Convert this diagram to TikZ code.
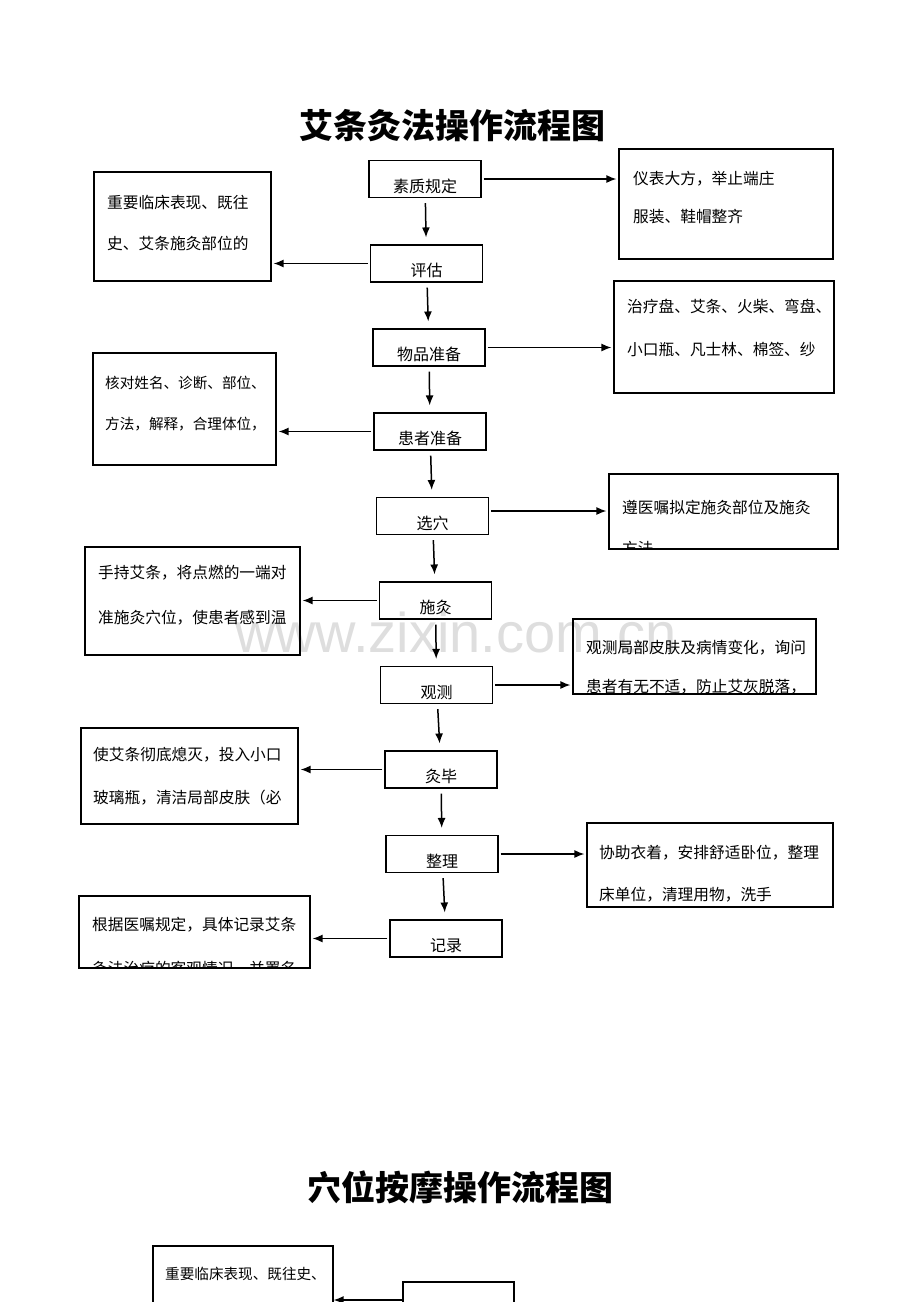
\documentclass[tikz,border=0pt]{standalone}
\usepackage{fontspec}
\newfontfamily\cjk{Noto Sans CJK SC}
\newfontfamily\wmfont{Liberation Sans}
\usetikzlibrary{arrows.meta}
\tikzstyle{arrow} = [line width=1.5pt,->,>={Latex[length=10pt,width=8pt]},shorten <=2pt,shorten >=2pt]
\tikzstyle{down} = [arrow,shorten <=5pt,shorten >=7pt]
\tikzstyle{stepbox} = [draw, line width=1.1pt, minimum width=112pt, minimum height=37pt, inner sep=0pt, text height=26pt, text depth=0pt, font=\cjk\fontsize{16}{16}\selectfont]
\tikzstyle{notebox} = [draw, line width=1.1pt, inner sep=0pt]
\tikzstyle{note} = [anchor=west, inner sep=0pt, font=\cjk\fontsize{15.7}{16}\selectfont]
\tikzstyle{notesmall} = [note, font=\cjk\fontsize{14.6}{15}\selectfont]
\tikzstyle{heading} = [font=\cjk\bfseries\fontsize{34}{34}\selectfont]

\begin{document}
\begin{tikzpicture}[x=1pt,y=-1pt]
                \useasboundingbox (0,0) rectangle (920,1302);
                \clip (0,0) rectangle (920,1302);
                % watermark
                \node (mark) [anchor=base, text=black!13, font=\wmfont\fontsize{56}{56}\selectfont] at (456,652) {www.zixin.com.cn};

                \node (title) [heading] at (452,126) {艾条灸法操作流程图};

                % steps
                \node (s1) [stepbox] at (425,179) {素质规定};
                \node (s2) [stepbox] at (426.5,263.5) {评估};
                \node (s3) [stepbox] at (429,347.5) {物品准备};
                \node (s4) [stepbox] at (430,431.5) {患者准备};
                \node (s5) [stepbox] at (432.5,516) {选穴};
                \node (s6) [stepbox] at (435.5,600.5) {施灸};
                \node (s7) [stepbox] at (436.5,685) {观测};
                \node (s8) [stepbox] at (441,769.5) {灸毕};
                \node (s9) [stepbox] at (442,854) {整理};
                \node (s10) [stepbox] at (446,938.5) {记录};

                % notes
                \node (r1) [notebox, minimum width=214pt, minimum height=110pt] at (726,204) {};
                \node (r1a) [note] at (633,179) {仪表大方，举止端庄};
                \node (r1b) [note] at (633,217) {服装、鞋帽整齐};

                \node (l1) [notebox, minimum width=177pt, minimum height=109pt] at (182.5,226.5) {};
                \node (l1a) [note] at (107,203) {重要临床表现、既往};
                \node (l1b) [note] at (107,243) {史、艾条施灸部位的};

                \node (r2) [notebox, minimum width=220pt, minimum height=112pt] at (724,337) {};
                \node (r2a) [note] at (627,306) {治疗盘、艾条、火柴、弯盘、};
                \node (r2b) [note] at (627,350) {小口瓶、凡士林、棉签、纱};

                \node (l2) [notebox, minimum width=183pt, minimum height=112pt] at (184.5,409) {};
                \node (l2a) [notesmall] at (105,383) {核对姓名、诊断、部位、};
                \node (l2b) [notesmall] at (105,424) {方法，解释，合理体位，};

                \node (r3) [notebox, minimum width=229pt, minimum height=75pt] at (723.5,511.5) {};
                \node (r3a) [note] at (622,507) {遵医嘱拟定施灸部位及施灸};
                \begin{scope}
                    \clip (r3.north west) rectangle (r3.south east);
                    \node (r3b) [note] at (622,548) {方法};
                \end{scope}

                \node (l3) [notebox, minimum width=215pt, minimum height=108pt] at (192.5,601) {};
                \node (l3a) [note] at (98,573) {手持艾条，将点燃的一端对};
                \node (l3b) [note] at (98,618) {准施灸穴位，使患者感到温};

                \node (r4) [notebox, minimum width=243pt, minimum height=75pt] at (694.5,656.5) {};
                \node (r4a) [note] at (586,648) {观测局部皮肤及病情变化，询问};
                \node (r4b) [note] at (586,687) {患者有无不适，防止艾灰脱落，};

                \node (l4) [notebox, minimum width=217pt, minimum height=96pt] at (189.5,776) {};
                \node (l4a) [note] at (93,755) {使艾条彻底熄灭，投入小口};
                \node (l4b) [note] at (93,798) {玻璃瓶，清洁局部皮肤（必};

                \node (r5) [notebox, minimum width=246pt, minimum height=84pt] at (710,865) {};
                \node (r5a) [note] at (599,853) {协助衣着，安排舒适卧位，整理};
                \node (r5b) [note] at (599,895) {床单位，清理用物，洗手};

                \node (l5) [notebox, minimum width=231pt, minimum height=72pt] at (194.5,932) {};
                \node (l5a) [note] at (92,925) {根据医嘱规定，具体记录艾条};
                \begin{scope}
                    \clip (l5.north west) rectangle (l5.south east);
                    \node (l5b) [note] at (92,969) {灸法治疗的客观情况，并署名};
                \end{scope}

                \draw [down] (s1) -- (s2);
                \draw [down] (s2) -- (s3);
                \draw [down] (s3) -- (s4);
                \draw [down] (s4) -- (s5);
                \draw [down] (s5) -- (s6);
                \draw [down] (s6) -- (s7);
                \draw [down] (s7) -- (s8);
                \draw [down] (s8) -- (s9);
                \draw [down] (s9) -- (s10);

                \draw [arrow] (s1.east) -- (s1.east -| r1.west);
                \draw [arrow] (s2.west) -- (s2.west -| l1.east);
                \draw [arrow] (s3.east) -- (s3.east -| r2.west);
                \draw [arrow] (s4.west) -- (s4.west -| l2.east);
                \draw [arrow] ([yshift=5pt]s5.east) -- ([yshift=5pt]s5.east -| r3.west);
                \draw [arrow] (s6.west) -- (s6.west -| l3.east);
                \draw [arrow] (s7.east) -- (s7.east -| r4.west);
                \draw [arrow] (s8.west) -- (s8.west -| l4.east);
                \draw [arrow] (s9.east) -- (s9.east -| r5.west);
                \draw [arrow] (s10.west) -- (s10.west -| l5.east);

                % second chart
                \node (title2) [heading] at (460,1187) {穴位按摩操作流程图};
                \node (b1) [notebox, minimum width=180pt, minimum height=110pt] at (243,1301) {};
                \node (b1a) [notesmall] at (165,1274) {重要临床表现、既往史、};
                \node (b2) [notebox, minimum width=111pt, minimum height=36pt] at (458.5,1300) {};
                \draw [arrow,shorten <=0pt,shorten >=0pt] (b2.west) -- (b2.west -| b1.east);
            \end{tikzpicture}
\end{document}
